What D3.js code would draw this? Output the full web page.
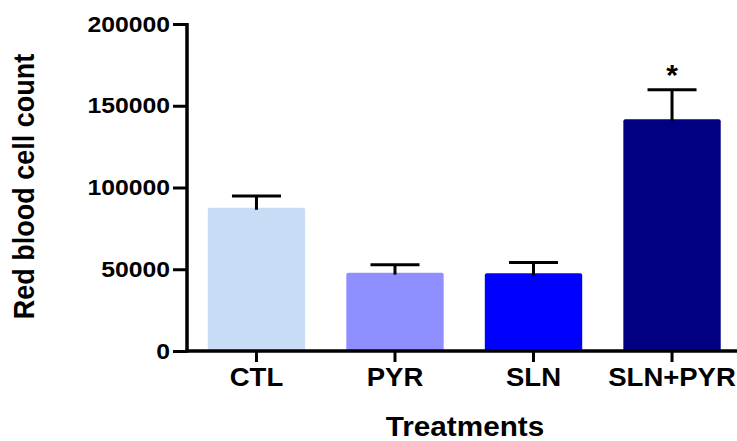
<!DOCTYPE html>
<html>
<head>
<meta charset="utf-8">
<script src="https://cdn.jsdelivr.net/npm/d3@7"></script>
<style>
  html, body { margin: 0; padding: 0; background: #fff; }
  svg { display: block; }
  text { font-family: "Liberation Sans", Arial, sans-serif; font-weight: bold; fill: #000; }
</style>
</head>
<body>
<svg id="chart" width="737" height="441"></svg>
<script>
const categories = ["CTL", "PYR", "SLN", "SLN+PYR"];
const means = [87600, 47900, 47500, 141700];
const sems = [7200, 4900, 6700, 18100];
const colors = ["#C8DCF6", "#8F8FFF", "#0000FF", "#000080"];
const significance = ["", "", "", "*"];
const yTicks = [0, 50000, 100000, 150000, 200000];
const yTitle = "Red blood cell count";
const xTitle = "Treatments";

const svg = d3.select("#chart");
const W = 737, H = 441;
const x0 = 187, yBase = 351, yTop = 24;
const stretch = 1.1;

const x = d3.scaleBand().domain(categories).range([x0, 741.5]).paddingInner(0.297).paddingOuter(0.15);
const y = d3.scaleLinear().domain([0, 200000]).range([yBase, yTop]);

// bars
svg.append("g").selectAll("rect").data(categories).join("rect")
  .attr("x", d => x(d))
  .attr("y", (d, i) => y(means[i]))
  .attr("width", x.bandwidth())
  .attr("height", (d, i) => yBase - y(means[i]))
  .attr("rx", 2)
  .attr("fill", (d, i) => colors[i]);

// error bars (upper only)
const eb = svg.append("g").attr("stroke", "#000").attr("stroke-width", 3);
categories.forEach((c, i) => {
  const cx = x(c) + x.bandwidth() / 2;
  eb.append("line").attr("x1", cx).attr("x2", cx)
    .attr("y1", y(means[i]) + 2).attr("y2", y(means[i] + sems[i]));
  eb.append("line").attr("x1", cx - 24.5).attr("x2", cx + 24.5)
    .attr("y1", y(means[i] + sems[i])).attr("y2", y(means[i] + sems[i]));
});

// significance marks
svg.append("g").selectAll("text").data(categories).join("text")
  .attr("x", d => x(d) + x.bandwidth() / 2)
  .attr("y", (d, i) => y(means[i] + sems[i]) - 5)
  .attr("text-anchor", "middle")
  .style("font-size", "30px")
  .text((d, i) => significance[i]);

// y axis
const yAxis = svg.append("g").attr("transform", `translate(${x0},0)`)
  .call(d3.axisLeft(y).tickValues(yTicks).tickSize(14).tickPadding(4).tickFormat(d3.format("d")));
yAxis.select(".domain").remove();
yAxis.selectAll(".tick line").attr("stroke", "#000").attr("stroke-width", 3);
yAxis.selectAll(".tick text")
  .attr("x", -17 / stretch)
  .attr("transform", `scale(${stretch},1)`)
  .style("font-size", "22.5px")
  .style("font-family", "'Liberation Sans', Arial, sans-serif")
  .style("font-weight", "bold");

// x axis
const xAxis = svg.append("g").attr("transform", `translate(0,${yBase})`)
  .call(d3.axisBottom(x).tickSize(11).tickPadding(4));
xAxis.select(".domain").remove();
xAxis.selectAll(".tick line").attr("stroke", "#000").attr("stroke-width", 3);
xAxis.selectAll(".tick text")
  .attr("y", 35).attr("dy", 0)
  .attr("transform", `scale(${stretch},1)`)
  .style("font-size", "25px")
  .style("font-family", "'Liberation Sans', Arial, sans-serif")
  .style("font-weight", "bold");

// axis lines
svg.append("line").attr("x1", x0).attr("x2", x0).attr("y1", yTop - 1).attr("y2", yBase + 1.5)
  .attr("stroke", "#000").attr("stroke-width", 3.5);
svg.append("line").attr("x1", x0 - 1.5).attr("x2", W).attr("y1", yBase).attr("y2", yBase)
  .attr("stroke", "#000").attr("stroke-width", 3.5);

// axis titles
svg.append("text")
  .attr("transform", `translate(34,${(55 + 318) / 2}) rotate(-90) scale(1,${stretch})`)
  .attr("text-anchor", "middle")
  .style("font-size", "27px")
  .text(yTitle);

svg.append("text")
  .attr("transform", `translate(465,436) scale(${stretch},1)`)
  .attr("text-anchor", "middle")
  .style("font-size", "27px")
  .text(xTitle);
</script>
</body>
</html>
